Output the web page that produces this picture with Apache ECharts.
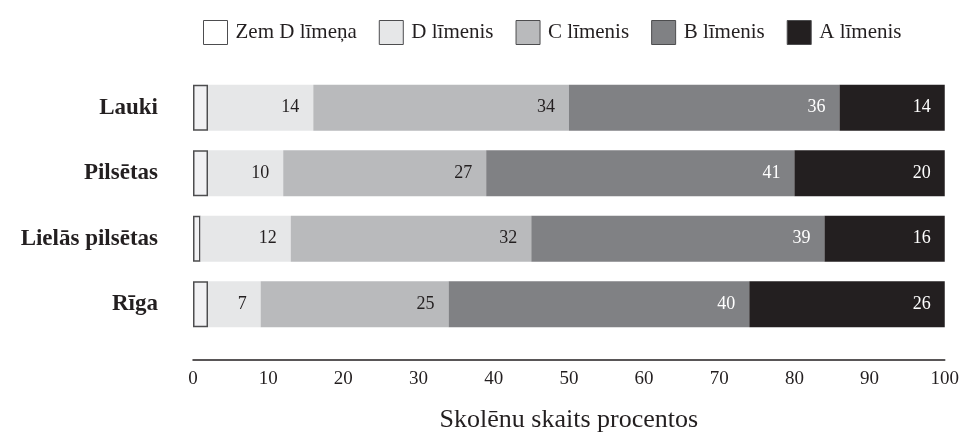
<!DOCTYPE html>
<html>
<head>
<meta charset="utf-8">
<script src="https://cdn.jsdelivr.net/npm/echarts@6/dist/echarts.min.js"></script>
<style>html,body{margin:0;padding:0;background:#fff;}#c{width:962px;height:438px;}</style>
</head>
<body>
<div id="c"></div>
<script>
var categories = ['Lauki', 'Pilsētas', 'Lielās pilsētas', 'Rīga'];
var seriesNames = ['Zem D līmeņa', 'D līmenis', 'C līmenis', 'B līmenis', 'A līmenis'];
var zemD = [2, 2, 1, 2];
var levelD = [14, 10, 12, 7];
var levelC = [34, 27, 32, 25];
var levelB = [36, 41, 39, 40];
var levelA = [14, 20, 16, 26];
var xTicks = [0, 10, 20, 30, 40, 50, 60, 70, 80, 90, 100];

var FONT = 'Liberation Serif';
var INK = '#231f20';
var colors = ['#f1f1f3', '#e6e7e8', '#b9babc', '#808184', '#231f20'];
var labelColors = [INK, INK, INK, '#ffffff', '#ffffff'];
var values = [zemD, levelD, levelC, levelB, levelA];

var series = seriesNames.map(function (name, i) {
  var s = {
    name: name,
    type: 'bar',
    stack: 'total',
    barWidth: 46,
    data: values[i],
    itemStyle: { color: colors[i] },
    label: {
      show: i > 0,
      position: 'insideRight',
      distance: 14,
      color: labelColors[i],
      fontFamily: FONT,
      fontSize: 18
    },
    emphasis: { disabled: true }
  };
  if (i === 0) {
    s.itemStyle.borderColor = '#4d4d4f';
    s.itemStyle.borderWidth = 1.5;
  }
  return s;
});

var legendData = seriesNames.map(function (name, i) {
  return i === 0 ? { name: name, itemStyle: { color: '#ffffff' } } : { name: name };
});

var chart = echarts.init(document.getElementById('c'));
chart.setOption({
  animation: false,
  color: colors,
  legend: {
    data: legendData,
    top: 15,
    left: 198,
    itemWidth: 24,
    itemHeight: 24,
    itemGap: 22,
    icon: 'rect',
    itemStyle: { borderColor: '#4d4d4f', borderWidth: 1 },
    textStyle: { fontFamily: FONT, fontSize: 21, color: INK, padding: [0, 0, 0, 3] }
  },
  grid: { left: 193, right: 14, top: 75, bottom: 100, containLabel: false },
  xAxis: {
    type: 'value',
    min: 0,
    max: 100,
    interval: 10,
    offset: 23,
    axisLine: { show: true, lineStyle: { color: INK, width: 1.5 } },
    axisTick: { show: false },
    splitLine: { show: false },
    axisLabel: {
      margin: 10,
      fontFamily: FONT,
      fontSize: 19,
      color: INK,
      formatter: function (v) { return xTicks.indexOf(v) >= 0 ? String(v) : ''; }
    },
    name: 'Skolēnu skaits procentos',
    nameLocation: 'middle',
    nameGap: 47,
    nameTextStyle: { fontFamily: FONT, fontSize: 26, color: INK }
  },
  yAxis: {
    type: 'category',
    data: categories,
    inverse: true,
    axisLine: { show: false },
    axisTick: { show: false },
    axisLabel: {
      margin: 35,
      fontFamily: FONT,
      fontWeight: 'bold',
      fontSize: 23,
      color: INK
    }
  },
  series: series
});
</script>
</body>
</html>
